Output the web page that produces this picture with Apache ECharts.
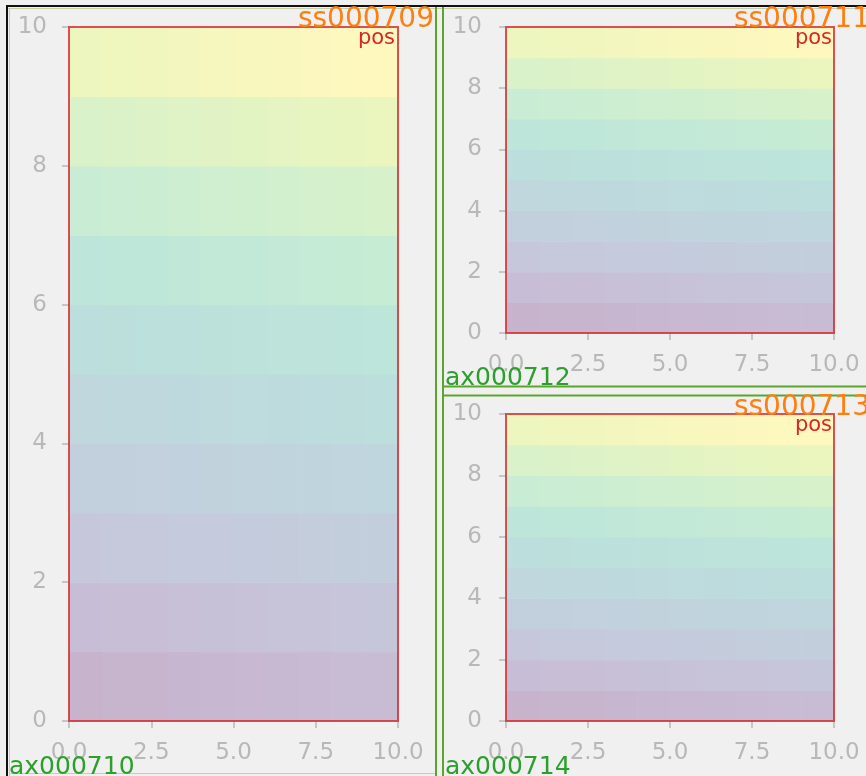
<!DOCTYPE html>
<html>
<head>
<meta charset="utf-8">
<script src="https://cdn.jsdelivr.net/npm/echarts@6/dist/echarts.min.js"></script>
<style>
html,body{margin:0;padding:0;background:#f0f0f0;}
#c{width:866px;height:776px;}
</style>
</head>
<body>
<div id="c"></div>
<script>
// ---- data ----
const gridRows = [
  [0,1,2,3,4,5,6,7,8,9],
  [10,11,12,13,14,15,16,17,18,19],
  [20,21,22,23,24,25,26,27,28,29],
  [30,31,32,33,34,35,36,37,38,39],
  [40,41,42,43,44,45,46,47,48,49],
  [50,51,52,53,54,55,56,57,58,59],
  [60,61,62,63,64,65,66,67,68,69],
  [70,71,72,73,74,75,76,77,78,79],
  [80,81,82,83,84,85,86,87,88,89],
  [90,91,92,93,94,95,96,97,98,99]
];
const xTicks = [0, 2.5, 5, 7.5, 10];
const yTicks = [0, 2, 4, 6, 8, 10];
const panelTitles = ['ss000709', 'ss000711', 'ss000713'];
const axesLabels = ['ax000710', 'ax000712', 'ax000714'];
const innerLabel = 'pos';

const viridis = ['#440154','#482475','#414487','#355f8d','#2a788e','#21918c','#22a884','#44bf70','#7ad151','#bddf26','#fde725'];

const cells = [];
gridRows.forEach((row, r) => row.forEach((v, c) => cells.push([c, r, v])));

const grids = [
  {left: 69, top: 27, width: 329, height: 694},
  {left: 506, top: 27, width: 328, height: 306},
  {left: 506, top: 414, width: 328, height: 307}
];

const tickColor = '#b8b8b8';
const labelFont = 'DejaVu Sans';
const ALPHA = 0.3;

function blendWhite(col) {
  let r, g, b;
  if (col[0] === '#') {
    r = parseInt(col.substr(1, 2), 16); g = parseInt(col.substr(3, 2), 16); b = parseInt(col.substr(5, 2), 16);
  } else {
    const m = col.match(/[\d.]+/g); r = +m[0]; g = +m[1]; b = +m[2];
  }
  const f = v => Math.round(v * ALPHA + 255 * (1 - ALPHA));
  return 'rgb(' + f(r) + ',' + f(g) + ',' + f(b) + ')';
}

const option = {
  backgroundColor: '#f0f0f0',
  animation: false,
  visualMap: {
    show: false, type: 'continuous', min: 0, max: 99, dimension: 2,
    seriesIndex: [0,1,2], inRange: {color: viridis}
  },
  grid: grids.map(g => Object.assign({
    show: true, backgroundColor: 'transparent', z: 5,
    borderColor: 'rgba(214,39,40,0.8)', borderWidth: 2
  }, g)),
  xAxis: grids.map((g, i) => ({
    type: 'value', gridIndex: i, min: 0, max: 10, interval: 2.5,
    axisLine: {show: false},
    axisTick: {show: true, length: 7, lineStyle: {color: tickColor, width: 1.5}},
    splitLine: {show: false},
    axisLabel: {color: tickColor, fontSize: 23, fontFamily: labelFont, margin: 21,
      formatter: v => v.toFixed(1)}
  })),
  yAxis: grids.map((g, i) => ({
    type: 'value', gridIndex: i, min: 0, max: 10, interval: 2,
    axisLine: {show: false},
    axisTick: {show: true, length: 7, lineStyle: {color: tickColor, width: 1.5}},
    splitLine: {show: false},
    axisLabel: {color: tickColor, fontSize: 23, fontFamily: labelFont, margin: i === 0 ? 22 : 24}
  })),
  series: grids.map((g, i) => ({
    type: 'custom', xAxisIndex: i, yAxisIndex: i, data: cells,
    encode: {x: 0, y: 1},
    renderItem: function (params, api) {
      const x = api.value(0), y = api.value(1);
      const p0 = api.coord([x, y + 1]);
      const p1 = api.coord([x + 1, y]);
      return {
        type: 'rect',
        shape: {x: p0[0], y: p0[1], width: p1[0] - p0[0] + 0.6, height: p1[1] - p0[1] + 0.6},
        style: {fill: blendWhite(api.visual('color'))}
      };
    },
    z: 2
  })),
  graphic: [
    {type: 'rect', shape: {x: 6, y: 5, width: 2, height: 771}, style: {fill: '#111'}, silent: true},
    {type: 'rect', shape: {x: 6, y: 5, width: 860, height: 2}, style: {fill: '#111'}, silent: true},
    {type: 'line', shape: {x1: 9.5, y1: 8, x2: 9.5, y2: 776}, style: {stroke: '#c9cfa8', lineWidth: 1}},
    {type: 'line', shape: {x1: 8, y1: 8.5, x2: 866, y2: 8.5}, style: {stroke: '#c9cfa8', lineWidth: 1}},
    {type: 'line', shape: {x1: 9, y1: 773.5, x2: 436, y2: 773.5}, style: {stroke: '#c9cfa8', lineWidth: 1}},
    {type: 'line', shape: {x1: 436, y1: 7, x2: 436, y2: 776}, style: {stroke: '#5ba52e', lineWidth: 2}},
    {type: 'line', shape: {x1: 443, y1: 7, x2: 443, y2: 776}, style: {stroke: '#5ba52e', lineWidth: 2}},
    {type: 'line', shape: {x1: 443, y1: 386.5, x2: 866, y2: 386.5}, style: {stroke: '#5ba52e', lineWidth: 2}},
    {type: 'line', shape: {x1: 443, y1: 395.5, x2: 866, y2: 395.5}, style: {stroke: '#5ba52e', lineWidth: 2}},
    {type: 'text', x: 434, y: 6, z: 10,
      style: {text: panelTitles[0], fill: '#ff7f0e', font: '28px "DejaVu Sans"', textAlign: 'right', textVerticalAlign: 'top'}},
    {type: 'text', x: 870, y: 6, z: 10,
      style: {text: panelTitles[1], fill: '#ff7f0e', font: '28px "DejaVu Sans"', textAlign: 'right', textVerticalAlign: 'top'}},
    {type: 'text', x: 870, y: 394, z: 10,
      style: {text: panelTitles[2], fill: '#ff7f0e', font: '28px "DejaVu Sans"', textAlign: 'right', textVerticalAlign: 'top'}},
    {type: 'text', x: 395, y: 28, z: 10,
      style: {text: innerLabel, fill: '#d62728', font: '21px "DejaVu Sans"', textAlign: 'right', textVerticalAlign: 'top'}},
    {type: 'text', x: 832, y: 28, z: 10,
      style: {text: innerLabel, fill: '#d62728', font: '21px "DejaVu Sans"', textAlign: 'right', textVerticalAlign: 'top'}},
    {type: 'text', x: 832, y: 415, z: 10,
      style: {text: innerLabel, fill: '#d62728', font: '21px "DejaVu Sans"', textAlign: 'right', textVerticalAlign: 'top'}},
    {type: 'text', x: 9, y: 755, z: 10,
      style: {text: axesLabels[0], fill: '#2ca02c', font: '25px "DejaVu Sans"', textAlign: 'left', textVerticalAlign: 'top'}},
    {type: 'text', x: 445, y: 366, z: 10,
      style: {text: axesLabels[1], fill: '#2ca02c', font: '25px "DejaVu Sans"', textAlign: 'left', textVerticalAlign: 'top'}},
    {type: 'text', x: 445, y: 755, z: 10,
      style: {text: axesLabels[2], fill: '#2ca02c', font: '25px "DejaVu Sans"', textAlign: 'left', textVerticalAlign: 'top'}}
  ]
};

const chart = echarts.init(document.getElementById('c'), null, {renderer: 'canvas'});
chart.setOption(option);
</script>
</body>
</html>
